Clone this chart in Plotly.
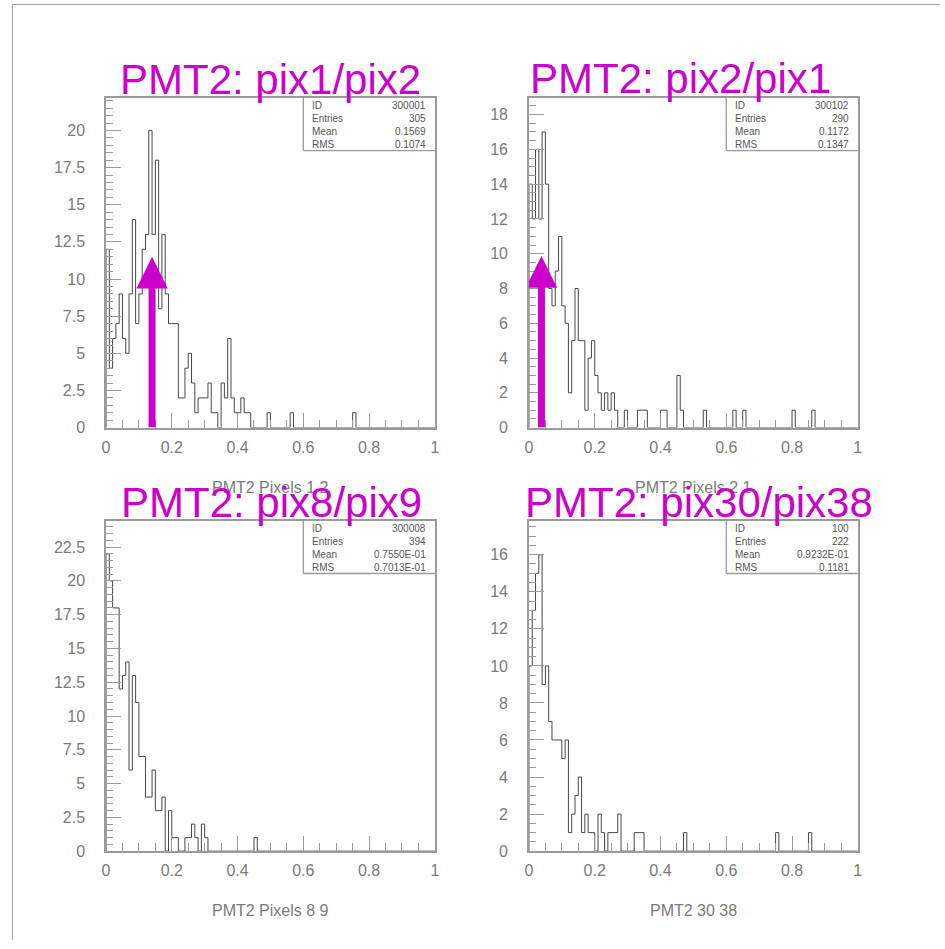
import plotly.graph_objects as go

# ---------------- data ----------------
n_bins = 100
x_lo, x_hi = 0.0, 1.0

counts_pix1_pix2 = [
    12, 4, 6, 7, 9, 6, 5, 9, 14, 7, 9, 12, 13, 20, 13, 18, 8, 13, 9, 7,
    7, 7, 2, 2, 4, 5, 3, 1, 2, 2, 2, 3, 1, 1, 0, 3, 2, 6, 2, 1,
    1, 2, 1, 1, 0, 0, 0, 0, 0, 1, 0, 0, 0, 0, 0, 0, 1, 0, 0, 0,
    0, 0, 0, 0, 0, 0, 0, 0, 0, 0, 0, 0, 0, 0, 0, 1, 0, 0, 0, 0,
    0, 0, 0, 0, 0, 0, 0, 0, 0, 0, 0, 0, 0, 0, 0, 0, 0, 0, 0, 0,
]
counts_pix2_pix1 = [
    14, 12, 16, 12, 17, 14, 8, 7, 9, 11, 7, 6, 2, 5, 8, 5, 5, 1, 4, 5,
    3, 2, 1, 2, 1, 2, 1, 0, 0, 1, 0, 0, 0, 1, 1, 1, 0, 0, 0, 0,
    1, 1, 0, 0, 0, 3, 1, 0, 0, 0, 0, 0, 0, 1, 0, 0, 0, 0, 0, 0,
    0, 0, 1, 0, 0, 1, 0, 0, 0, 0, 0, 0, 0, 0, 0, 0, 0, 0, 0, 0,
    1, 0, 0, 0, 0, 0, 1, 0, 0, 0, 0, 0, 0, 0, 0, 0, 0, 0, 0, 0,
]
counts_pix8_pix9 = [
    22, 20, 18, 18, 12, 13, 14, 6, 13, 11, 7, 7, 4, 4, 6, 3, 3, 4, 0, 3,
    1, 1, 0, 0, 1, 1, 2, 1, 0, 2, 1, 0, 0, 0, 0, 0, 0, 0, 0, 0,
    0, 0, 0, 0, 0, 1, 0, 0, 0, 0, 0, 0, 0, 0, 0, 0, 0, 0, 0, 0,
    0, 0, 0, 0, 0, 0, 0, 0, 0, 0, 0, 0, 0, 0, 0, 0, 0, 0, 0, 0,
    0, 0, 0, 0, 0, 0, 0, 0, 0, 0, 0, 0, 0, 0, 0, 0, 0, 0, 0, 0,
]
counts_pix30_pix38 = [
    10, 13, 15, 16, 9, 10, 7, 6, 6, 6, 5, 6, 1, 2, 3, 4, 1, 2, 1, 1,
    0, 2, 1, 0, 1, 1, 1, 2, 0, 0, 0, 0, 1, 1, 1, 0, 0, 0, 0, 0,
    0, 0, 0, 0, 0, 0, 0, 1, 0, 0, 0, 0, 0, 0, 0, 0, 0, 0, 0, 0,
    0, 0, 0, 0, 0, 0, 0, 0, 0, 0, 0, 0, 0, 0, 0, 1, 0, 0, 0, 0,
    0, 0, 0, 0, 0, 1, 0, 0, 0, 0, 0, 0, 0, 0, 0, 0, 0, 0, 0, 0,
]
all_counts = [counts_pix1_pix2, counts_pix2_pix1, counts_pix8_pix9, counts_pix30_pix38]

titles = ["PMT2: pix1/pix2", "PMT2: pix2/pix1", "PMT2: pix8/pix9", "PMT2: pix30/pix38"]
x_titles = ["PMT2 Pixels 1 2", "PMT2 Pixels 2 1", "PMT2 Pixels 8 9", "PMT2 30 38"]

stat_labels = ["ID", "Entries", "Mean", "RMS"]
stat_ids = ["300001", "300102", "300008", "100"]
stat_entries = ["305", "290", "394", "222"]
stat_means = ["0.1569", "0.1172", "0.7550E-01", "0.9232E-01"]
stat_rms = ["0.1074", "0.1347", "0.7013E-01", "0.1181"]

# arrows (panel 1 and 2): x position and tip height in data units
arrow_x = [0.14, 0.038]
arrow_tip = [11.5, 9.87]

y_max = [22.18, 18.95, 24.43, 17.82]
y_dtick = [2.5, 2, 2.5, 2]

# ---------------- layout geometry (pixels) ----------------
W, H = 945, 949
panel_x = [(103, 435), (530, 862), (103, 435), (530, 862)]
panel_y = [(99, 431.7), (99, 431.7), (526, 859.3), (526, 859.3)]
title_pos = [(269, 80.5), (682.7, 78.8), (270, 507), (702, 507)]

MAG = "#cc00cc"
AX = "#9a9a9a"
TXT = "#7a7a7a"
HIST = "#474747"
FONT = "Liberation Sans"


def px(x):
    return x / W


def py(y):
    return 1 - y / H


fig = go.Figure()
bw = (x_hi - x_lo) / n_bins
for k, counts in enumerate(all_counts):
    xs, ys = [x_lo], [0]
    for i, c in enumerate(counts):
        xs += [x_lo + i * bw, x_lo + (i + 1) * bw]
        ys += [c, c]
    xs.append(x_hi)
    ys.append(0)
    sfx = "" if k == 0 else str(k + 1)
    fig.add_trace(go.Scatter(x=xs, y=ys, mode="lines",
                             line=dict(color=HIST, width=1),
                             xaxis="x" + sfx, yaxis="y" + sfx,
                             hoverinfo="skip", showlegend=False))

layout = dict(width=W, height=H, margin=dict(l=0, r=0, t=0, b=0),
              paper_bgcolor="white", plot_bgcolor="white", showlegend=False)

for k in range(4):
    sfx = "" if k == 0 else str(k + 1)
    x0, x1 = panel_x[k]
    ytop, ybot = panel_y[k]
    layout["xaxis" + sfx] = dict(
        domain=[px(x0), px(x1)], anchor="y" + sfx, range=[x_lo, x_hi],
        showline=True, linecolor=AX, linewidth=1.5, mirror=True,
        ticks="inside", ticklen=15, tickwidth=1.2, tickcolor=AX,
        tick0=0, dtick=0.2,
        minor=dict(ticks="inside", dtick=0.05, ticklen=8, tickwidth=1.2, tickcolor=AX),
        showgrid=False, zeroline=False, ticklabelstandoff=4,
        tickfont=dict(family=FONT, size=16, color=TXT))
    layout["yaxis" + sfx] = dict(
        domain=[py(ybot), py(ytop)], anchor="x" + sfx, range=[0, y_max[k]],
        showline=True, linecolor=AX, linewidth=1.5, mirror=True,
        ticks="inside", ticklen=15, tickwidth=1.2, tickcolor=AX,
        tick0=0, dtick=y_dtick[k],
        minor=dict(ticks="inside", dtick=0.5, ticklen=7, tickwidth=1.2, tickcolor=AX),
        showgrid=False, zeroline=False, ticklabelstandoff=16,
        tickfont=dict(family=FONT, size=16, color=TXT))

fig.update_layout(**layout)

shapes = []
annotations = []

# page frame lines
shapes.append(dict(type="line", xref="paper", yref="paper", x0=px(8), x1=px(945), y0=py(4.5), y1=py(4.5),
                   line=dict(color="#a0a0a0", width=1)))
shapes.append(dict(type="line", xref="paper", yref="paper", x0=px(8.5), x1=px(8.5), y0=py(4.5), y1=py(949),
                   line=dict(color="#a0a0a0", width=1)))

for k in range(4):
    x0, x1 = panel_x[k]
    ytop, ybot = panel_y[k]
    cx = (x0 + x1) / 2
    # stats box
    bx = x0 + 0.6 * (x1 - x0)
    bb = ytop + 53
    shapes.append(dict(type="line", xref="paper", yref="paper", x0=px(bx), x1=px(bx), y0=py(ytop), y1=py(bb),
                       line=dict(color=AX, width=1.3)))
    shapes.append(dict(type="line", xref="paper", yref="paper", x0=px(bx), x1=px(x1), y0=py(bb), y1=py(bb),
                       line=dict(color=AX, width=1.3)))
    vals = [stat_ids[k], stat_entries[k], stat_means[k], stat_rms[k]]
    for r, (lab, val) in enumerate(zip(stat_labels, vals)):
        yy = ytop + 7.3 + r * 13.3
        annotations.append(dict(xref="paper", yref="paper", x=px(bx + 6.5), y=py(yy), text=lab,
                                showarrow=False, xanchor="left", yanchor="middle",
                                font=dict(family=FONT, size=10, color="#555555")))
        annotations.append(dict(xref="paper", yref="paper", x=px(x1 - 6.5), y=py(yy), text=val,
                                showarrow=False, xanchor="right", yanchor="middle",
                                font=dict(family=FONT, size=10, color="#555555")))
    # x-axis titles
    annotations.append(dict(xref="paper", yref="paper", x=px(cx), y=py(ybot + 60), text=x_titles[k],
                            showarrow=False, xanchor="center", yanchor="middle",
                            font=dict(family=FONT, size=16, color=TXT)))

# arrows
head_len_px, head_half_px = 32, 15.8
for k in range(2):
    sfx = "" if k == 0 else str(k + 1)
    x0, x1 = panel_x[k]
    ytop, ybot = panel_y[k]
    ppu_y = (ybot - ytop) / y_max[k]
    ppu_x = (x1 - x0) / (x_hi - x_lo)
    base = arrow_tip[k] - head_len_px / ppu_y
    hw = head_half_px / ppu_x
    xa = arrow_x[k]
    shapes.append(dict(type="line", xref="x" + sfx, yref="y" + sfx, x0=xa, x1=xa, y0=0, y1=base + 0.1,
                       line=dict(color=MAG, width=7), layer="above"))
    shapes.append(dict(type="path", xref="x" + sfx, yref="y" + sfx,
                       path=f"M {xa - hw},{base} L {xa + hw},{base} L {xa},{arrow_tip[k]} Z",
                       fillcolor=MAG, line=dict(color=MAG, width=0), layer="above"))

# magenta titles
for k in range(4):
    annotations.append(dict(xref="paper", yref="paper", x=px(title_pos[k][0]), y=py(title_pos[k][1]),
                            text=titles[k], showarrow=False, xanchor="center", yanchor="middle",
                            font=dict(family=FONT, size=42, color=MAG)))

fig.update_layout(shapes=shapes, annotations=annotations)
fig.write_html("out.html")
